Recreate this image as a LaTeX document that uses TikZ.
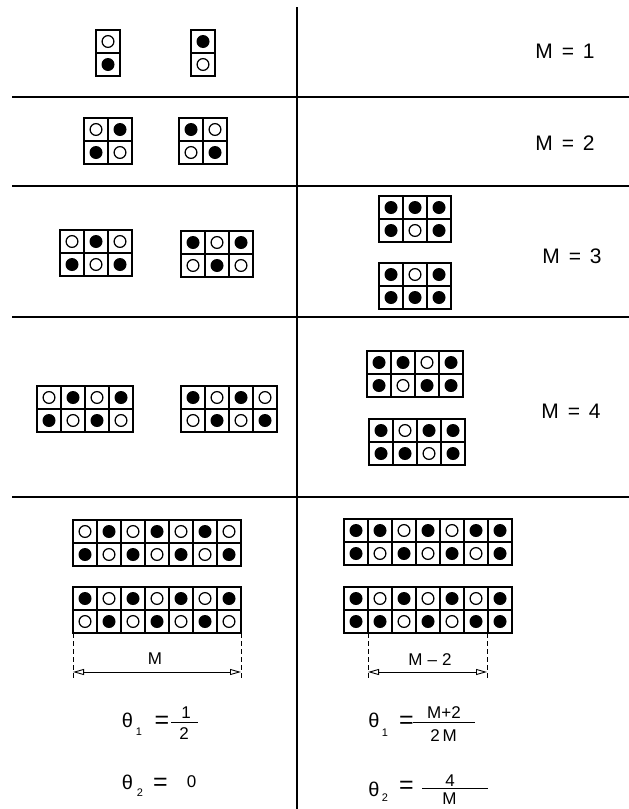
\documentclass[tikz,border=0pt]{standalone}
\usepackage{fontspec}
\setmainfont{Liberation Sans}
\usetikzlibrary{arrows.meta}
\tikzset{
  sepline/.style={line width=1.6pt},
  cellbox/.style={line width=1.4pt},
  opendot/.style={line width=1.2pt, fill=white},
  dimline/.style={line width=0.9pt, dash pattern=on 5pt off 3pt},
  dimarrow/.style={line width=0.9pt, {Triangle[open,length=11pt,width=6pt]}-{Triangle[open,length=11pt,width=6pt]}},
  mlabel/.style={font=\fontsize{21}{24}\selectfont, inner sep=0pt},
  dimlabel/.style={font=\fontsize{17}{20}\selectfont, inner sep=0pt},
  thetalbl/.style={font=\fontsize{20}{24}\selectfont, inner sep=0pt},
  sublbl/.style={font=\fontsize{11}{13}\selectfont, inner sep=0pt},
  eqlbl/.style={font=\fontsize{25}{28}\selectfont, inner sep=0pt},
  numlbl/.style={font=\fontsize{17}{20}\selectfont, inner sep=0pt},
  fracbar/.style={line width=0.9pt}
}
\newcommand\dotcell[3]{%
  \draw[cellbox] (#1,#2) rectangle ++(24,23);
  \ifnum#3=1\relax
    \fill (#1+12,#2+11.5) circle[radius=6.5pt];
  \else
    \draw[opendot] (#1+12,#2+11.5) circle[radius=5.9pt];
  \fi
}
\newcommand\dotgrid[4]{%
  \foreach \v [count=\i from 0] in {#3} {\dotcell{#1+\i*24}{#2}{\v}}
  \foreach \v [count=\i from 0] in {#4} {\dotcell{#1+\i*24}{#2+23}{\v}}
}
\begin{document}
\begin{tikzpicture}[x=1pt,y=-1pt]
\useasboundingbox (0,0) rectangle (629,809);
% separators
\draw[sepline] (297,7) -- (297,809);
\foreach \yy in {97,186,317,497} {\draw[sepline] (12,\yy) -- (629,\yy);}
% M = 1
\dotgrid{96}{30}{0}{1}
\dotgrid{191}{30}{1}{0}
\node[mlabel] (m1) at (565,51) {M\hspace{0.42em}=\hspace{0.42em}1};
% M = 2
\dotgrid{84}{118}{0,1}{1,0}
\dotgrid{179}{118}{1,0}{0,1}
\node[mlabel] (m2) at (565,143) {M\hspace{0.42em}=\hspace{0.42em}2};
% M = 3
\dotgrid{60}{230}{0,1,0}{1,0,1}
\dotgrid{181}{231}{1,0,1}{0,1,0}
\dotgrid{379}{196}{1,1,1}{1,0,1}
\dotgrid{379}{263}{1,0,1}{1,1,1}
\node[mlabel] (m3) at (572,256) {M\hspace{0.42em}=\hspace{0.42em}3};
% M = 4
\dotgrid{37}{386}{0,1,0,1}{1,0,1,0}
\dotgrid{181}{386}{1,0,1,0}{0,1,0,1}
\dotgrid{367}{351}{1,1,0,1}{1,0,1,1}
\dotgrid{369}{419}{1,0,1,1}{1,1,0,1}
\node[mlabel] (m4) at (571,411) {M\hspace{0.42em}=\hspace{0.42em}4};
% general
\dotgrid{73}{520}{0,1,0,1,0,1,0}{1,0,1,0,1,0,1}
\dotgrid{73}{587}{1,0,1,0,1,0,1}{0,1,0,1,0,1,0}
\dotgrid{344}{519}{1,1,0,1,0,1,1}{1,0,1,0,1,0,1}
\dotgrid{344}{587}{1,0,1,0,1,0,1}{1,1,0,1,0,1,1}
% dimensions
\coordinate (la) at (73,633); \coordinate (lb) at (73,678);
\coordinate (lc) at (241,633); \coordinate (ld) at (241,678);
\coordinate (le) at (73,672); \coordinate (lf) at (241,672);
\draw[dimline] (la) -- (lb);
\draw[dimline] (lc) -- (ld);
\draw[dimarrow] (le) -- (lf);
\node[dimlabel] (dl) at (155,659) {M};
\coordinate (ra) at (368,633); \coordinate (rb) at (368,678);
\coordinate (rc) at (487,633); \coordinate (rd) at (487,678);
\coordinate (re) at (368,672); \coordinate (rf) at (487,672);
\draw[dimline] (ra) -- (rb);
\draw[dimline] (rc) -- (rd);
\draw[dimarrow] (re) -- (rf);
\node[dimlabel] (dr) at (430,660) {M\hspace{0.3em}–\hspace{0.3em}2};
% left formulas
\node[thetalbl] (lt1) at (127.5,720.5) {θ};
\node[sublbl] (ls1) at (139,732) {1};
\node[eqlbl] (le1) at (162,722) {=};
\coordinate (lb1a) at (171,722); \coordinate (lb1b) at (198,722);
\draw[fracbar] (lb1a) -- (lb1b);
\node[numlbl] (ln1) at (186,712.5) {1};
\node[numlbl] (ld1) at (184,734) {2};
\node[thetalbl] (lt2) at (127.5,782.5) {θ};
\node[sublbl] (ls2) at (140,793) {2};
\node[eqlbl] (le2) at (160.5,784.5) {=};
\node[numlbl] (lz2) at (191.5,781.5) {0};
% right formulas
\node[thetalbl] (rt1) at (374,720.5) {θ};
\node[sublbl] (rs1) at (385,732.5) {1};
\node[eqlbl] (re1) at (406.5,722.5) {=};
\coordinate (rb1a) at (413,722); \coordinate (rb1b) at (475,722);
\draw[fracbar] (rb1a) -- (rb1b);
\node[numlbl] (rn1) at (444,712.5) {M+2};
\node[numlbl] (rd1) at (443.5,735.5) {2\,M};
\node[thetalbl] (rt2) at (374,789.5) {θ};
\node[sublbl] (rs2) at (385,797.5) {2};
\node[eqlbl] (re2) at (406.5,787.5) {=};
\coordinate (rb2a) at (422,788); \coordinate (rb2b) at (488,788);
\draw[fracbar] (rb2a) -- (rb2b);
\node[numlbl] (rn2) at (450,780.5) {4};
\node[numlbl] (rd2) at (449.5,798.5) {M};
\end{tikzpicture}
\end{document}
